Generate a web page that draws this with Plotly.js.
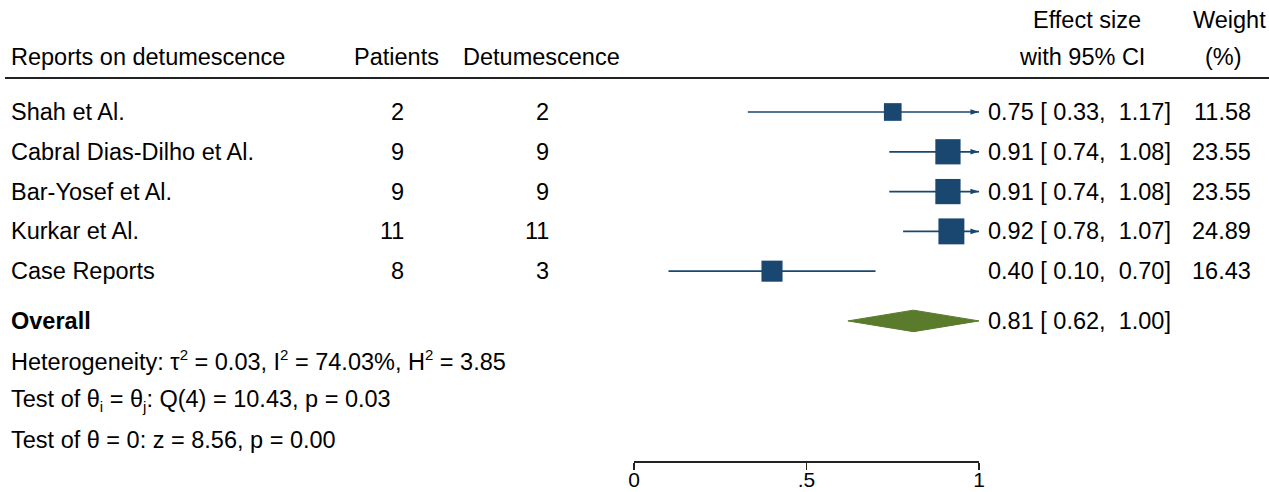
<!DOCTYPE html>
<html>
<head>
<meta charset="utf-8">
<script src="https://cdn.plot.ly/plotly-3.0.1.min.js"></script>
<style>html,body{margin:0;padding:0;background:#fff;}#chart{width:1269px;height:492px;}</style>
</head>
<body>
<div id="chart"></div>
<script>
// ---- data ----
const studies = ["Shah et Al.", "Cabral Dias-Dilho et Al.", "Bar-Yosef et Al.", "Kurkar et Al.", "Case Reports"];
const patients = [2, 9, 9, 11, 8];
const detumescence = [2, 9, 9, 11, 3];
const effect = [0.75, 0.91, 0.91, 0.92, 0.40];
const ciLow = [0.33, 0.74, 0.74, 0.78, 0.10];
const ciHigh = [1.17, 1.08, 1.08, 1.07, 0.70];
const weight = [11.58, 23.55, 23.55, 24.89, 16.43];
const overall = {es: 0.81, lo: 0.62, hi: 1.00};
const SUP = t => "<sup><span style='font-size:15px'>" + t + "</span></sup>";
const SUB = t => "<sub><span style='font-size:15px'>" + t + "</span></sub>";
const statLines = [
  "Heterogeneity: \u03c4" + SUP("2") + " = 0.03, I" + SUP("2") + " = 74.03%, H" + SUP("2") + " = 3.85",
  "Test of \u03b8" + SUB("i") + " = \u03b8" + SUB("j") + ": Q(4) = 10.43, p = 0.03",
  "Test of \u03b8 = 0: z = 8.56, p = 0.00"
];
const tickVals = [0, 0.5, 1];
const tickText = ["0", ".5", "1"];

// ---- layout helpers ----
const W = 1269, H = 492;
const FONT = "Liberation Sans, Arial, Helvetica, sans-serif";
const FS = 23.5;
const NAVY = "#1a476f";
const GREEN = "#5a7b2b";
const px = p => p / W;                 // paper x from pixel
const fmt = v => v.toFixed(2);
const nb = "\u00a0";
const esText = (e, l, h) => fmt(e) + " [" + nb + fmt(l) + "," + nb + nb + fmt(h) + "]";

const rowY = studies.map((s, i) => i);
const overallY = studies.length + 0.25;
const statY = statLines.map((s, i) => overallY + 1 + i * 0.99);

// CI lines
const lx = [], ly = [];
studies.forEach((s, i) => {
  lx.push(ciLow[i], Math.min(ciHigh[i], 1), null);
  ly.push(rowY[i], rowY[i], null);
});
const traces = [];
traces.push({x: lx, y: ly, mode: "lines", type: "scatter", line: {color: NAVY, width: 1.7}, hoverinfo: "skip", cliponaxis: false});
// arrows for truncated CIs
const ax = [], ay = [];
studies.forEach((s, i) => { if (ciHigh[i] > 1) { ax.push(1); ay.push(rowY[i]); } });
traces.push({x: ax, y: ay, mode: "markers", type: "scatter", cliponaxis: false, hoverinfo: "skip",
  marker: {symbol: "arrow", angle: 90, size: 9, color: NAVY, opacity: 1, line: {width: 0}}});
// squares
traces.push({x: effect, y: rowY, mode: "markers", type: "scatter", cliponaxis: false, hoverinfo: "skip",
  marker: {symbol: "square", size: weight.map(w => 5.2 * Math.sqrt(w)), color: NAVY, opacity: 1, line: {width: 0}}});
// diamond
const dh = 0.27;
traces.push({x: [overall.lo, overall.es, overall.hi, overall.es, overall.lo],
  y: [overallY, overallY - dh, overallY, overallY + dh, overallY],
  mode: "lines", fill: "toself", fillcolor: GREEN, line: {color: GREEN, width: 1}, type: "scatter", cliponaxis: false, hoverinfo: "skip"});

// annotations
const ann = [];
const txt = (x, y, text, anchor, extra) => ann.push(Object.assign({xref: "paper", yref: "y", x: px(x), y: y, text: text,
  showarrow: false, xanchor: anchor, yanchor: "middle", font: {family: FONT, size: FS, color: "#000"}}, extra || {}));
const hdr2 = -1.38, hdr1 = -2.31;
txt(9, hdr2, "Reports on detumescence", "left");
txt(396, hdr2, "Patients", "center");
txt(541, hdr2, "Detumescence", "center");
txt(1087, hdr1, "Effect size", "center");
txt(1082, hdr2, "with 95% CI", "center");
txt(1229, hdr1, "Weight", "center");
txt(1223, hdr2, "(%)", "center");
studies.forEach((s, i) => {
  txt(9, rowY[i], s, "left");
  txt(406, rowY[i], String(patients[i]), "right");
  txt(551, rowY[i], String(detumescence[i]), "right");
  txt(1173, rowY[i], esText(effect[i], ciLow[i], ciHigh[i]), "right");
  txt(1253, rowY[i], fmt(weight[i]), "right");
});
txt(9, overallY, "<b>Overall</b>", "left");
txt(1173, overallY, esText(overall.es, overall.lo, overall.hi), "right");
statLines.forEach((s, i) => txt(9, statY[i], s, "left"));

const layout = {
  width: W, height: H,
  margin: {l: 0, r: 0, t: 0, b: 31, pad: 0},
  paper_bgcolor: "#fff", plot_bgcolor: "rgba(0,0,0,0)",
  showlegend: false,
  font: {family: FONT, size: FS, color: "#000"},
  xaxis: {domain: [634 / W, 979 / W], range: [0, 1], showgrid: false, zeroline: false,
    showline: true, linecolor: "#222", linewidth: 1.5, ticks: "outside", ticklen: 7, tickwidth: 1.5, tickcolor: "#222",
    ticklabelstandoff: -8,
    tickvals: tickVals, ticktext: tickText, tickfont: {family: FONT, size: 21, color: "#000"}, fixedrange: true},
  yaxis: {range: [8.77, -2.814], visible: false, showgrid: false, zeroline: false, fixedrange: true},
  shapes: [{type: "line", xref: "paper", yref: "y", x0: px(5), x1: 1, y0: -0.854, y1: -0.854,
    line: {color: "#222", width: 2}}],
  annotations: ann
};
Plotly.newPlot("chart", traces, layout, {staticPlot: true, displayModeBar: false});
</script>
</body>
</html>
